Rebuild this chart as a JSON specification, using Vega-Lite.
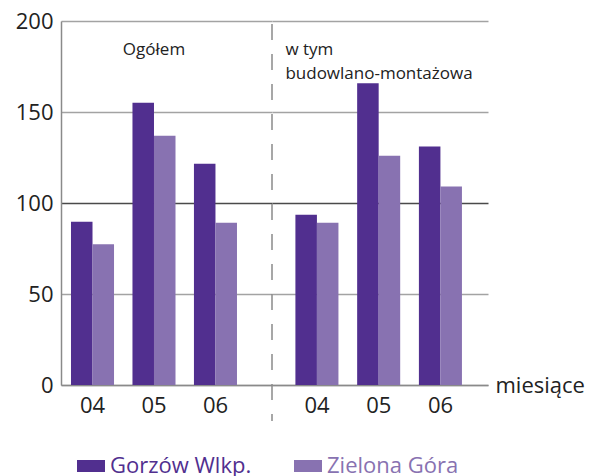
{
  "$schema": "https://vega.github.io/schema/vega-lite/v6.json",
  "background": "white",
  "padding": {"left": 15, "top": 10, "right": 0, "bottom": 0},
  "spacing": 0,
  "bounds": "flush",
  "datasets": {
    "ogolem": [
      {"month": "04", "city": "Gorzów Wlkp.", "value": 89.7},
      {"month": "04", "city": "Zielona Góra", "value": 77.3},
      {"month": "05", "city": "Gorzów Wlkp.", "value": 155.1},
      {"month": "05", "city": "Zielona Góra", "value": 137.0},
      {"month": "06", "city": "Gorzów Wlkp.", "value": 121.6},
      {"month": "06", "city": "Zielona Góra", "value": 89.2}
    ],
    "budowlane": [
      {"month": "04", "city": "Gorzów Wlkp.", "value": 93.6},
      {"month": "04", "city": "Zielona Góra", "value": 89.2},
      {"month": "05", "city": "Gorzów Wlkp.", "value": 165.8},
      {"month": "05", "city": "Zielona Góra", "value": 126.0},
      {"month": "06", "city": "Gorzów Wlkp.", "value": 131.1},
      {"month": "06", "city": "Zielona Góra", "value": 109.0}
    ]
  },
  "config": {
    "view": {"stroke": null},
    "font": "Open Sans",
    "axis": {
      "labelFont": "Open Sans",
      "labelFontSize": 22,
      "labelColor": "#222222",
      "ticks": false,
      "domainColor": "#8a8a8a",
      "domainWidth": 1.5,
      "titleFont": "Open Sans"
    }
  },
  "resolve": {"scale": {"color": "shared"}},
  "hconcat": [
    {
      "width": 211,
      "height": 364,
      "layer": [
        {
          "data": {"name": "ogolem"},
          "mark": {"type": "bar"},
          "encoding": {
            "x": {
              "field": "month", "type": "nominal",
              "scale": {"paddingInner": 0.3, "paddingOuter": 0.366, "align": 0.222},
              "axis": {"title": null, "labelAngle": 0, "labelPadding": 10}
            },
            "xOffset": {
              "field": "city", "type": "nominal",
              "sort": ["Gorzów Wlkp.", "Zielona Góra"],
              "scale": {"paddingInner": 0, "paddingOuter": 0}
            },
            "y": {
              "field": "value", "type": "quantitative",
              "scale": {"domain": [0, 200], "nice": false},
              "axis": {
                "title": null,
                "values": [0, 50, 100, 150, 200],
                "labelPadding": 8,
                "grid": true,
                "gridColor": {"condition": {"test": "datum.value === 100", "value": "#4a4a4a"}, "value": "#a3a3a3"},
                "gridWidth": 1.5
              }
            },
            "color": {
              "field": "city", "type": "nominal", "title": null,
              "scale": {"domain": ["Gorzów Wlkp.", "Zielona Góra"], "range": ["#512f8f", "#8872b1"]},
              "legend": {
                "orient": "none", "legendX": 16, "legendY": 431,
                "direction": "horizontal",
                "symbolType": "M-1,-0.43H1V0.43H-1Z",
                "symbolSize": 784,
                "symbolStrokeWidth": 0,
                "labelFont": "Open Sans",
                "labelFontSize": 22,
                "labelOffset": 5,
                "columnPadding": 42,
                "labelLimit": 300,
                "encode": {"labels": {"update": {"fill": {"scale": "color", "field": "value"}}}}
              }
            }
          }
        },
        {
          "data": {"values": [{"label": "Ogółem"}]},
          "mark": {"type": "text", "fontSize": 17, "color": "#222222", "align": "center", "baseline": "middle", "font": "Open Sans"},
          "encoding": {
            "x": {"datum": "05"},
            "y": {"datum": 184},
            "text": {"field": "label"}
          }
        }
      ]
    },
    {
      "width": 216,
      "height": 364,
      "layer": [
        {
          "data": {"name": "budowlane"},
          "mark": {"type": "bar"},
          "encoding": {
            "x": {
              "field": "month", "type": "nominal",
              "scale": {"paddingInner": 0.3, "paddingOuter": 0.399, "align": 0.475},
              "axis": {
                "title": "miesiące", "labelAngle": 0, "labelPadding": 10,
                "titleX": 223, "titleY": 0, "titleAlign": "left", "titleBaseline": "middle",
                "titleFontSize": 22, "titleFontWeight": "normal", "titleColor": "#222222", "titleAngle": 0
              }
            },
            "xOffset": {
              "field": "city", "type": "nominal",
              "sort": ["Gorzów Wlkp.", "Zielona Góra"],
              "scale": {"paddingInner": 0, "paddingOuter": 0}
            },
            "y": {
              "field": "value", "type": "quantitative",
              "scale": {"domain": [0, 200], "nice": false},
              "axis": {
                "title": null,
                "values": [0, 50, 100, 150, 200],
                "labels": false,
                "domain": false,
                "grid": true,
                "gridColor": {"condition": {"test": "datum.value === 100", "value": "#4a4a4a"}, "value": "#a3a3a3"},
                "gridWidth": 1.5
              }
            },
            "color": {
              "field": "city", "type": "nominal", "title": null,
              "scale": {"domain": ["Gorzów Wlkp.", "Zielona Góra"], "range": ["#512f8f", "#8872b1"]},
              "legend": {
                "orient": "none", "legendX": 16, "legendY": 431,
                "direction": "horizontal",
                "symbolType": "M-1,-0.43H1V0.43H-1Z",
                "symbolSize": 784,
                "symbolStrokeWidth": 0,
                "labelFont": "Open Sans",
                "labelFontSize": 22,
                "labelOffset": 5,
                "columnPadding": 42,
                "labelLimit": 300,
                "encode": {"labels": {"update": {"fill": {"scale": "color", "field": "value"}}}}
              }
            }
          }
        },
        {
          "data": {"values": [{"divider": "group"}]},
          "mark": {"type": "rule", "color": "#8a8a8a", "strokeWidth": 1.5, "strokeDash": [16, 14]},
          "encoding": {
            "x": {"value": 0},
            "y": {"datum": 198.3},
            "y2": {"datum": -19.8}
          }
        },
        {
          "data": {"values": [{"label": ["w tym", "budowlano-montażowa"]}]},
          "mark": {"type": "text", "fontSize": 17, "color": "#222222", "align": "left", "baseline": "middle", "lineHeight": 24, "dx": -10, "font": "Open Sans"},
          "encoding": {
            "x": {"datum": "04", "bandPosition": 0},
            "y": {"datum": 184},
            "text": {"field": "label"}
          }
        }
      ]
    }
  ]
}
